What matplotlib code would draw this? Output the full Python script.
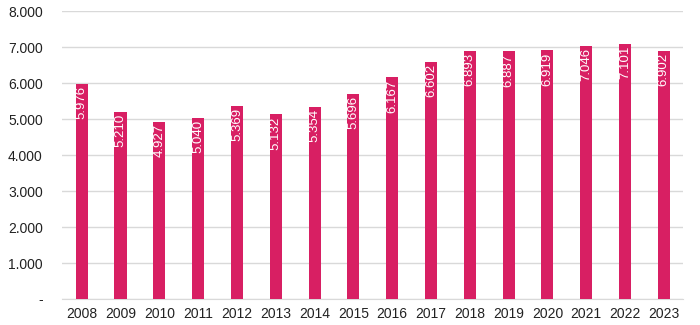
import matplotlib
matplotlib.use("Agg")
import matplotlib.pyplot as plt
from matplotlib.ticker import FuncFormatter

plt.rcParams["font.family"] = ["Liberation Sans", "DejaVu Sans"]

years = ["2008", "2009", "2010", "2011", "2012", "2013", "2014", "2015",
         "2016", "2017", "2018", "2019", "2020", "2021", "2022", "2023"]
values = [5976, 5210, 4927, 5040, 5369, 5132, 5354, 5696,
          6167, 6602, 6893, 6887, 6919, 7046, 7101, 6902]

bar_color = "#D81F63"


def thousands(v, pos):
    if v == 0:
        return "-"
    return f"{int(v):,}".replace(",", ".")


fig = plt.figure(figsize=(7, 3.25), dpi=100)
ax = fig.add_axes([0.089, 0.08, 0.887, 0.885])

x = range(len(years))
ax.bar(x, values, width=0.31, color=bar_color, zorder=3)

for xi, v in zip(x, values):
    ax.text(xi, v - 60, thousands(v, None), rotation=90, ha="center", va="top",
            color="white", fontsize=9.5, zorder=4)

ax.set_xticks(list(x))
ax.set_xticklabels(years)
ax.set_xlim(-0.5, len(years) - 0.5)
ax.set_ylim(0, 8000)
ax.set_yticks(range(0, 8001, 1000))
ax.yaxis.set_major_formatter(FuncFormatter(thousands))
ax.grid(axis="y", color="#D9D9D9", linewidth=1, zorder=0)
for s in ["top", "right", "left"]:
    ax.spines[s].set_visible(False)
ax.spines["bottom"].set_color("#D9D9D9")
ax.tick_params(axis="both", length=0, labelsize=10, colors="#222222")
ax.tick_params(axis="y", pad=14)
ax.tick_params(axis="x", pad=6)

fig.savefig("out.png", dpi=100)
